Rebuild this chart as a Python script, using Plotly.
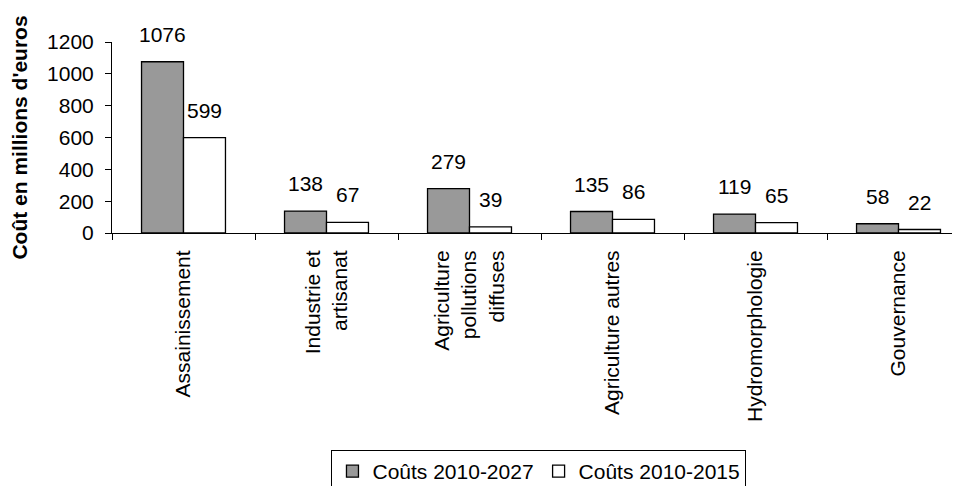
import plotly.graph_objects as go

categories = ["Assainissement", "Industrie et<br>artisanat", "Agriculture<br>pollutions<br>diffuses",
              "Agriculture autres", "Hydromorphologie", "Gouvernance"]
costs_2027 = [1076, 138, 279, 135, 119, 58]
costs_2015 = [599, 67, 39, 86, 65, 22]
series_names = ["Coûts 2010-2027", "Coûts 2010-2015"]
y_ticks = [0, 200, 400, 600, 800, 1000, 1200]

FONT = "Arial, Liberation Sans, sans-serif"

fig = go.Figure()
fig.add_trace(go.Bar(name=series_names[0], x=categories, y=costs_2027,
                     marker=dict(color="#999999", line=dict(color="#000000", width=1.3))))
fig.add_trace(go.Bar(name=series_names[1], x=categories, y=costs_2015,
                     marker=dict(color="#ffffff", line=dict(color="#000000", width=1.3))))

annotations = []
for cat, v1, v2 in zip(categories, costs_2027, costs_2015):
    annotations.append(dict(x=cat, y=v1, xref="x", yref="y", text=str(v1), showarrow=False,
                            xshift=-21, yshift=14, yanchor="bottom", font=dict(size=21, color="#000")))
    annotations.append(dict(x=cat, y=v2, xref="x", yref="y", text=str(v2), showarrow=False,
                            xshift=21, yshift=14, yanchor="bottom", font=dict(size=21, color="#000")))

fig.update_layout(
    width=952, height=478,
    margin=dict(l=104, r=0, t=34, b=253),
    paper_bgcolor="white", plot_bgcolor="white",
    font=dict(family=FONT, size=21, color="#000"),
    barmode="group", bargap=0.413, bargroupgap=0,
    showlegend=True,
    legend=dict(orientation="h", x=0.5035, xanchor="center", yref="container", y=0.0753, yanchor="top",
                bordercolor="#000", borderwidth=1, bgcolor="white", font=dict(size=21),
                traceorder="normal"),
    annotations=annotations,
)
fig.update_xaxes(range=[-0.5, 5.43], showline=True, linecolor="#000", linewidth=1,
                 ticks="outside", ticklen=6, tickcolor="#000", tickson="boundaries",
                 tickangle=-90, showgrid=False, zeroline=False, automargin=False,
                 tickfont=dict(size=21), ticklabelstandoff=8)
fig.update_yaxes(range=[0, 1200], tickvals=y_ticks, showline=True, linecolor="#000", linewidth=1,
                 ticks="outside", ticklen=6, tickcolor="#000", showgrid=False, zeroline=False,
                 automargin=False, tickfont=dict(size=21), ticklabelstandoff=7,
                 title=dict(text="<b>Coût en millions d'euros</b>", font=dict(size=21), standoff=14))

fig.write_html("out.html")
